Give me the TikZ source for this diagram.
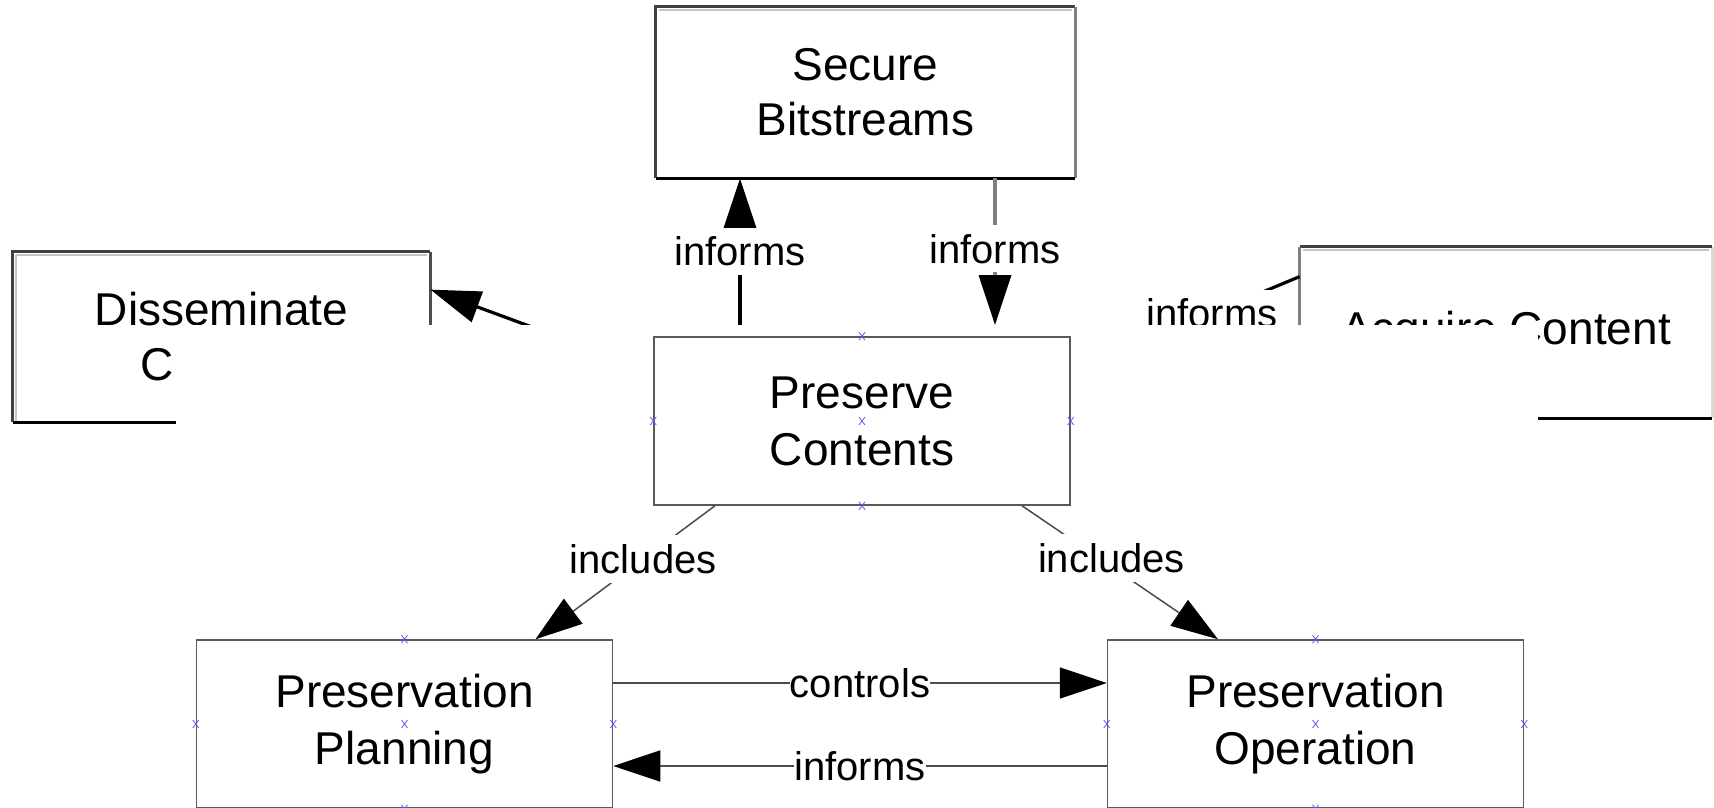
\documentclass[tikz,border=0pt]{standalone}
\usepackage{fontspec}
\setmainfont{Liberation Sans}
\usetikzlibrary{arrows.meta,calc}
\definecolor{dk}{HTML}{404040}
\definecolor{md}{HTML}{808080}
\definecolor{lt}{HTML}{C4C4C4}
\definecolor{xl}{HTML}{DADADA}
\definecolor{bmark}{HTML}{5A5AFF}
\begin{document}
\begin{tikzpicture}[x=0.5pt,y=-0.5pt,
  ubox/.style={inner sep=0pt, align=center, font=\fontsize{23}{27.5}\selectfont},
  cbox/.style={draw=black!65, line width=0.75pt, minimum width=208pt, minimum height=84pt,
     inner sep=0pt, align=center, font=\fontsize{23}{28.5}\selectfont},
  dkline/.style={draw=dk, line width=1.6pt},
  mdline/.style={draw=md, line width=1.8pt},
  bkline/.style={draw=black, line width=1.6pt},
  ltline/.style={draw=lt, line width=1pt},
  xlline/.style={draw=xl, line width=1.8pt},
  uline/.style={draw=black, line width=2pt},
  utip/.style={-{Triangle[length=25pt,width=16pt,color=black]}},
  lbl/.style={fill=white, inner xsep=0pt, inner ysep=4.5pt, font=\fontsize{20}{24}\selectfont},
  cline/.style={draw=black!70, line width=0.75pt, -{Triangle[length=23.5pt,width=15.5pt,color=black]}},
  bx/.pic={\draw[bmark, line width=0.4pt] (-3,-4)--(3,4) (-3,4)--(3,-4);}
]
\useasboundingbox (0,0) rectangle (1714,808);
\fill[white] (0,0) rectangle (1714,808);

% ---------- upper (older) drawing ----------
\node[ubox, minimum width=209.5pt, minimum height=85.5pt] (sb) at (865.5,92.5) {Secure\\Bitstreams};
\draw[ltline] ($(sb.north west)+(3,3)$) -- ($(sb.north east)+(-3,3)$);
\draw[dkline] (sb.south west) -- (sb.north west) -- (sb.north east);
\draw[mdline] (sb.north east) -- (sb.south east);
\draw[bkline] (sb.south west) -- (sb.south east);

\node[ubox, minimum width=208.5pt, minimum height=85pt] (ds) at (221.5,337) {Disseminate\\Content};
\draw[ltline] ($(ds.north west)+(3,3)$) -- ($(ds.north east)+(-3,3)$);
\draw[ltline] ($(ds.north west)+(3,3)$) -- ($(ds.south west)+(3,0)$);
\draw[dkline] (ds.south west) -- (ds.north west) -- (ds.north east);
\draw[mdline,draw=dk!80!md] (ds.north east) -- (ds.south east);
\draw[bkline] (ds.south west) -- (ds.south east);

\node[ubox, minimum width=206pt, minimum height=85.5pt] (ac) at (1506,332.5) {Acquire Content};
\draw[ltline] ($(ac.north west)+(3,3)$) -- ($(ac.north east)+(-3,3)$);
\draw[xlline] (ac.north east) -- (ac.south east);
\draw[dkline] (ac.north west) -- (ac.north east);
\draw[mdline] (ac.north west) -- (ac.south west);
\draw[bkline] (ac.south west) -- (ac.south east);

\coordinate (pl) at (740,325);
\coordinate (pr) at (995,325);
\coordinate (dsrc) at (540,330);
\coordinate (asrc) at (1100,360);

\draw[uline,utip] (pl) -- (pl |- sb.south) node[lbl,pos=0.5] {informs};
\draw[uline,draw=md,line width=1.8pt,utip] (pr |- sb.south) -- (pr) node[lbl,pos=0.48] {informs};
\draw[uline,line width=1.6pt,utip] (dsrc) -- ($(ds.north east)+(0,38)$);
\draw[uline,line width=1.6pt] (asrc) -- ($(ac.north west)+(0,30)$) node[lbl,pos=0.56] {informs};

% ---------- pasted newer drawing ----------
\fill[white] (176,325) rectangle (1538,812);

\node[cbox] (pc) at (862,421) {Preserve\\Contents};
\node[cbox] (pp) at (404.5,724) {Preservation\\Planning};
\node[cbox] (po) at (1315.5,724) {Preservation\\Operation};

\draw[cline] ($(pc.south)+(-147,0)$) -- ($(pp.north)+(131,0)$) node[lbl,pos=0.4] {includes};
\draw[cline] ($(pc.south)+(160,0)$) -- ($(po.north)+(-97.5,0)$) node[lbl,pos=0.39,xshift=6.5pt] {includes};
\draw[cline] ($(pp.east)+(0,-41)$) -- ($(po.west)+(0,-41)$) node[lbl,pos=0.5] {controls};
\draw[cline] ($(po.west)+(0,42)$) -- ($(pp.east)+(0,42)$) node[lbl,pos=0.5] {informs};

\foreach \n in {pc,pp,po}{
  \foreach \a in {north,south,east,west,center}{
    \pic at (\n.\a) {bx};
  }
}
\end{tikzpicture}
\end{document}
